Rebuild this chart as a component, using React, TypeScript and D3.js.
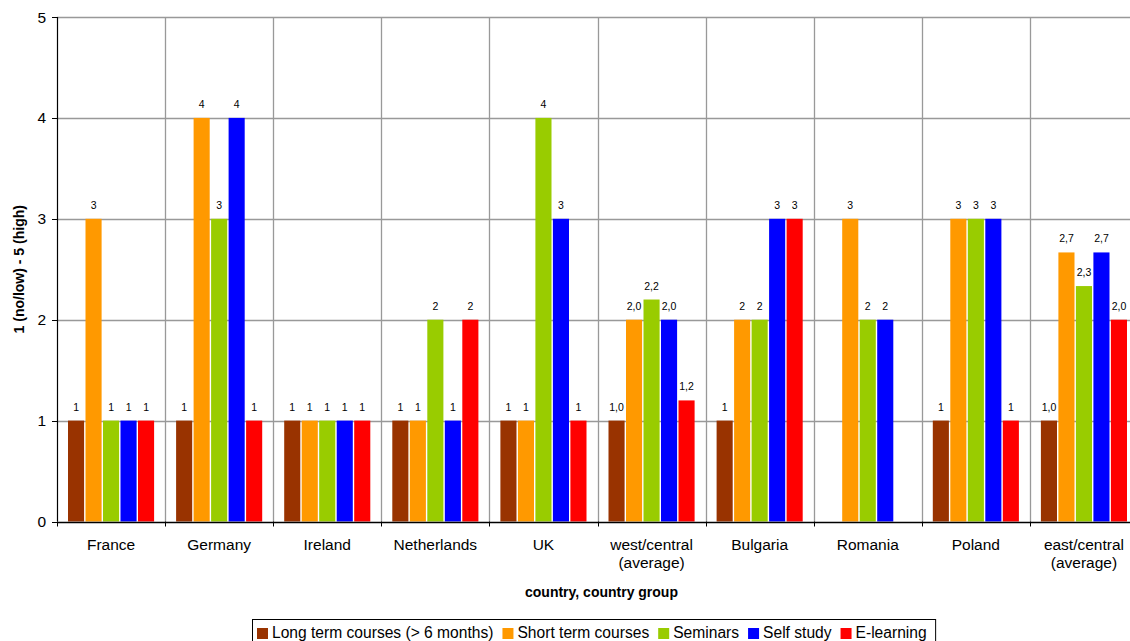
import React, { useEffect, useRef } from "react";
import * as d3 from "d3";

// Categories (countries and country groups) with line breaks for the axis labels
const categories: string[][] = [
  ["France"],
  ["Germany"],
  ["Ireland"],
  ["Netherlands"],
  ["UK"],
  ["west/central", "(average)"],
  ["Bulgaria"],
  ["Romania"],
  ["Poland"],
  ["east/central", "(average)"],
];
// Which categories are group averages (labelled with one decimal)
const isAverage: boolean[] = [false, false, false, false, false, true, false, false, false, true];

const seriesNames: string[] = [
  "Long term courses (> 6 months)",
  "Short term courses",
  "Seminars",
  "Self study",
  "E-learning",
];
const seriesColors: string[] = ["#993300", "#FF9900", "#99CC00", "#0000FF", "#FF0000"];

// Ratings per series, one value per category (null = no answer)
const longTerm: (number | null)[] = [1, 1, 1, 1, 1, 1.0, 1, null, 1, 1.0];
const shortTerm: (number | null)[] = [3, 4, 1, 1, 1, 2.0, 2, 3, 3, 8 / 3];
const seminars: (number | null)[] = [1, 3, 1, 2, 4, 2.2, 2, 2, 3, 7 / 3];
const selfStudy: (number | null)[] = [1, 4, 1, 1, 3, 2.0, 3, 2, 3, 8 / 3];
const eLearning: (number | null)[] = [1, 1, 1, 2, 1, 1.2, 3, null, 1, 2.0];

const seriesValues = [longTerm, shortTerm, seminars, selfStudy, eLearning];

const yTicks: number[] = [0, 1, 2, 3, 4, 5];

const W = 1130;
const H = 641;
const FONT = "'Liberation Sans', Arial, sans-serif";

export default function App() {
  const ref = useRef<SVGSVGElement | null>(null);

  useEffect(() => {
    const svg = d3.select(ref.current);
    svg.selectAll("*").remove();

    const left = 57;
    const bandW = 108.1;
    const x = d3
      .scaleBand<number>()
      .domain(categories.map((_, i) => i))
      .range([left, left + bandW * categories.length])
      .paddingInner(0)
      .paddingOuter(0);
    const xi = d3
      .scaleBand<number>()
      .domain(seriesNames.map((_, i) => i))
      .range([11, 97.1])
      .paddingInner(0.08);
    const y = d3.scaleLinear().domain([0, 5]).range([521.5, 17]);

    const g = svg.append("g");

    // horizontal gridlines
    g.selectAll("line.hgrid")
      .data(yTicks.filter((t) => t > 0))
      .join("line")
      .attr("x1", left)
      .attr("x2", W)
      .attr("y1", (d) => Math.round(y(d)) + 0.5)
      .attr("y2", (d) => Math.round(y(d)) + 0.5)
      .attr("stroke", "#999999")
      .attr("stroke-width", 1.3);

    // vertical gridlines at category boundaries
    const bounds = categories.map((_, i) => (x(i) as number) + bandW).filter((v) => v < W);
    g.selectAll("line.vgrid")
      .data(bounds)
      .join("line")
      .attr("x1", (d) => Math.round(d) + 0.5)
      .attr("x2", (d) => Math.round(d) + 0.5)
      .attr("y1", y(5))
      .attr("y2", y(0))
      .attr("stroke", "#999999")
      .attr("stroke-width", 1.3);

    // bars with value labels
    seriesValues.forEach((vals, s) => {
      const pts = vals.map((v, i) => ({ v, i })).filter((d) => d.v !== null);
      g.append("g")
        .selectAll("rect")
        .data(pts)
        .join("rect")
        .attr("x", (d) => (x(d.i) as number) + (xi(s) as number))
        .attr("width", xi.bandwidth())
        .attr("y", (d) => y(d.v as number))
        .attr("height", (d) => y(0) - y(d.v as number))
        .attr("fill", seriesColors[s]);

      g.append("g")
        .selectAll("text")
        .data(pts)
        .join("text")
        .attr("x", (d) => (x(d.i) as number) + (xi(s) as number) + xi.bandwidth() / 2)
        .attr("y", (d) => y(d.v as number) - 10)
        .attr("text-anchor", "middle")
        .attr("font-family", FONT)
        .attr("font-size", 10.5)
        .attr("fill", "#000")
        .text((d) =>
          isAverage[d.i]
            ? (d.v as number).toFixed(1).replace(".", ",")
            : d3.format("d")(d.v as number)
        );
    });

    // y axis
    g.append("line")
      .attr("x1", left + 0.5)
      .attr("x2", left + 0.5)
      .attr("y1", y(5))
      .attr("y2", y(0))
      .attr("stroke", "#000")
      .attr("stroke-width", 1.2);
    g.selectAll("line.ytick")
      .data(yTicks)
      .join("line")
      .attr("x1", left - 5)
      .attr("x2", left)
      .attr("y1", (d) => Math.round(y(d)) + 0.5)
      .attr("y2", (d) => Math.round(y(d)) + 0.5)
      .attr("stroke", "#000");
    g.selectAll("text.ylab")
      .data(yTicks)
      .join("text")
      .attr("x", 46)
      .attr("y", (d) => y(d) + 5.5)
      .attr("text-anchor", "end")
      .attr("font-family", FONT)
      .attr("font-size", 15.5)
      .text((d) => String(d));

    // x axis
    g.append("line")
      .attr("x1", left)
      .attr("x2", W)
      .attr("y1", Math.round(y(0)) + 0.5)
      .attr("y2", Math.round(y(0)) + 0.5)
      .attr("stroke", "#000")
      .attr("stroke-width", 1.5);
    g.selectAll("line.xtick")
      .data([left, ...bounds])
      .join("line")
      .attr("x1", (d) => Math.round(d) + 0.5)
      .attr("x2", (d) => Math.round(d) + 0.5)
      .attr("y1", y(0))
      .attr("y2", y(0) + 5)
      .attr("stroke", "#000");

    const xl = g
      .selectAll("text.xlab")
      .data(categories.map((c, i) => ({ c, i })))
      .join("text")
      .attr("text-anchor", "middle")
      .attr("font-family", FONT)
      .attr("font-size", 15.5)
      .attr("y", 550);
    xl.selectAll("tspan")
      .data((d) => d.c.map((line, k) => ({ line, k, i: d.i })))
      .join("tspan")
      .attr("x", (d) => (x(d.i) as number) + bandW / 2)
      .attr("dy", (d) => (d.k === 0 ? 0 : 18))
      .text((d) => d.line);

    // axis titles
    g.append("text")
      .attr("x", (left + W) / 2 + 8)
      .attr("y", 597)
      .attr("text-anchor", "middle")
      .attr("font-family", FONT)
      .attr("font-weight", "bold")
      .attr("font-size", 14)
      .text("country, country group");
    g.append("text")
      .attr("transform", `translate(24,${(y(0) + y(5)) / 2}) rotate(-90)`)
      .attr("text-anchor", "middle")
      .attr("font-family", FONT)
      .attr("font-weight", "bold")
      .attr("font-size", 14)
      .text("1 (no/low) - 5 (high)");

    // legend
    const lg = svg.append("g");
    const box = lg
      .append("rect")
      .attr("y", 619.5)
      .attr("height", 40)
      .attr("fill", "#fff")
      .attr("stroke", "#000")
      .attr("stroke-width", 1);
    let cx = 257;
    seriesNames.forEach((name, s) => {
      lg.append("rect")
        .attr("x", cx)
        .attr("y", 628)
        .attr("width", 11)
        .attr("height", 11)
        .attr("fill", seriesColors[s]);
      const t = lg
        .append("text")
        .attr("x", cx + 15)
        .attr("y", 638)
        .attr("font-family", FONT)
        .attr("font-size", 15.6)
        .text(name);
      const w = (t.node() as SVGTextElement).getComputedTextLength();
      cx += 15 + w + 9;
    });
    box.attr("x", 252.5).attr("width", cx - 252.5);
  }, []);

  return (
    <svg
      ref={ref}
      width={W}
      height={H}
      style={{ position: "absolute", left: 0, top: 0, background: "#fff" }}
    />
  );
}
